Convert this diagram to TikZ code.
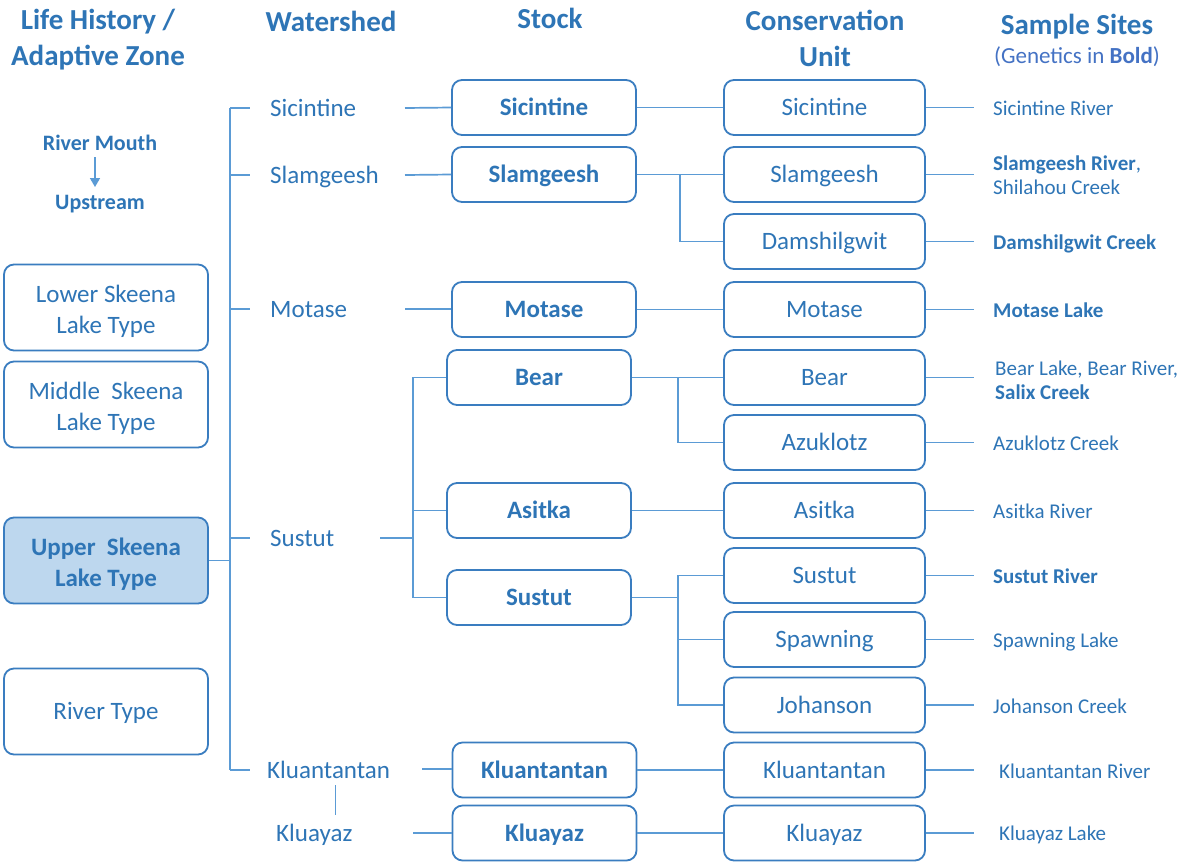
\documentclass[tikz,border=0pt]{standalone}
\usepackage{fontspec}
\usetikzlibrary{arrows.meta}
\setmainfont{Carlito}
\definecolor{txt}{HTML}{2E75B6}
\definecolor{edge}{HTML}{3A7DC0}
\definecolor{wire}{HTML}{5B9BD5}
\definecolor{zfill}{HTML}{BDD7EE}
\definecolor{subtxt}{HTML}{4472C4}
\begin{document}
\begin{tikzpicture}[x=1pt,y=-1pt,
  oneline/.style={text height=#1, text depth=0pt},
  box/.style={draw=edge, line width=1.8pt, rounded corners=10pt, text=txt, align=center, inner sep=0pt},
  stockbox/.style={box, oneline=16.5pt, minimum width=184pt, minimum height=55pt, font=\fontsize{25}{30}\selectfont\bfseries},
  cubox/.style={box, oneline=16.5pt, minimum width=201pt, minimum height=55pt, font=\fontsize{25}{30}\selectfont},
  zonebox/.style={box, minimum width=204pt, minimum height=86pt, font=\fontsize{25}{31}\selectfont},
  zonetext/.style={text=txt, align=center, inner sep=0pt, font=\fontsize{25}{31}\selectfont},
  hdr/.style={text=txt, align=center, inner sep=0pt, font=\fontsize{29}{36}\selectfont\bfseries},
  wlabel/.style={text=txt, oneline=16.5pt, anchor=west, inner sep=0pt, font=\fontsize{25}{30}\selectfont},
  site/.style={text=txt, oneline=14pt, anchor=west, inner sep=0pt, font=\fontsize{21}{25}\selectfont},
  site2/.style={text=txt, anchor=west, align=left, inner sep=0pt, font=\fontsize{21}{24.5}\selectfont},
  note/.style={text=txt, oneline=14.5pt, inner sep=0pt, font=\fontsize{22}{26}\selectfont\bfseries},
  link/.style={draw=wire, line width=1.7pt}]

\fill[white] (0,0) rectangle (1188,863);
\useasboundingbox (0,0) rectangle (1188,863);

% column headings
\node[hdr] (hLife) at (98,40) {Life History /\\Adaptive Zone};
\node[hdr, oneline=19pt] (hWs) at (331,22) {Watershed};
\node[hdr, oneline=19pt] (hStock) at (550,19) {Stock};
\node[hdr] (hCU) at (825,38) {Conservation\\Unit};
\node[hdr, oneline=19pt] (hSite) at (1077,25) {Sample Sites};
\node[text=subtxt, oneline=15pt, inner sep=0pt, font=\fontsize{23}{27}\selectfont] (hGen) at (1077,56) {(Genetics in \textbf{Bold})};

% direction key
\node[note] (mouth) at (100,143) {River Mouth};
\node[note] (up) at (100,202) {Upstream};
\coordinate (aTop) at (95,157);
\coordinate (aBot) at (95,187);
\draw[draw=wire, line width=1.5pt, -{Triangle[length=9pt,width=10pt]}] (aTop) -- (aBot);

% life-history zones
\node[zonebox] (zLow) at (106,307.5) {};
\node[zonetext] at (106,311) {Lower Skeena\\Lake Type};
\node[zonebox] (zMid) at (106,404.5) {};
\node[zonetext] at (106,408) {Middle~~Skeena\\Lake Type};
\node[zonebox, fill=zfill] (zUp) at (106,560.5) {};
\node[zonetext, font=\fontsize{25}{31}\selectfont\bfseries] at (106,564) {Upper~~Skeena\\Lake Type};
\node[zonebox, oneline=16.5pt] (zRiv) at (106,711.5) {River Type};

% watersheds
\node[wlabel] (w1) at (270,108) {Sicintine};
\node[wlabel] (w2) at (270,175) {Slamgeesh};
\node[wlabel] (w3) at (270,309) {Motase};
\node[wlabel] (w4) at (270,538) {Sustut};
\node[wlabel] (w5) at (267,770) {Kluantantan};
\node[wlabel] (w6) at (276,833) {Kluayaz};

% stocks
\node[stockbox] (s1) at (544,107.5) {Sicintine};
\node[stockbox] (s2) at (544,174.5) {Slamgeesh};
\node[stockbox] (s3) at (544,309.5) {Motase};
\node[stockbox] (s4) at (539,377.5) {Bear};
\node[stockbox] (s5) at (539,510.5) {Asitka};
\node[stockbox] (s6) at (539,597.5) {Sustut};
\node[stockbox] (s7) at (544.5,770) {Kluantantan};
\node[stockbox] (s8) at (544.5,833) {Kluayaz};

% conservation units
\node[cubox] (c1) at (824.5,107.5) {Sicintine};
\node[cubox] (c2) at (824.5,174.5) {Slamgeesh};
\node[cubox] (c3) at (824.5,241.5) {Damshilgwit};
\node[cubox] (c4) at (824.5,309.5) {Motase};
\node[cubox] (c5) at (824.5,377.5) {Bear};
\node[cubox] (c6) at (824.5,442.5) {Azuklotz};
\node[cubox] (c7) at (824.5,510.5) {Asitka};
\node[cubox] (c8) at (824.5,575.5) {Sustut};
\node[cubox] (c9) at (824.5,639.5) {Spawning};
\node[cubox] (c10) at (824.5,705) {Johanson};
\node[cubox] (c11) at (824.5,770) {Kluantantan};
\node[cubox] (c12) at (824.5,833) {Kluayaz};

% sample sites
\node[site] (p1) at (993,108) {Sicintine River};
\node[site2] (p2) at (993,175) {\textbf{Slamgeesh River},\\Shilahou Creek};
\node[site] (p3) at (993,242) {\textbf{Damshilgwit Creek}};
\node[site] (p4) at (993,310) {\textbf{Motase Lake}};
\node[site2] (p5) at (995,380.5) {Bear Lake, Bear River,\\\textbf{Salix Creek}};
\node[site] (p6) at (993,443) {Azuklotz Creek};
\node[site] (p7) at (993,511) {Asitka River};
\node[site] (p8) at (993,576) {\textbf{Sustut River}};
\node[site] (p9) at (993,640) {Spawning Lake};
\node[site] (p10) at (993,706) {Johanson Creek};
\node[site] (p11) at (999,771) {Kluantantan River};
\node[site] (p12) at (999,833) {Kluayaz Lake};

% zone -> watershed trunk
\coordinate (tTop) at (230,108);
\coordinate (tBot) at (230,770);
\coordinate (tUp) at (230,560.5);
\draw[link] (tTop) -- (tBot);
\draw[link] (zUp.east) -- (tUp);
\foreach \w in {w1,w2,w3,w4,w5}
  \draw[link] (tTop |- \w.west) -- ++(20,0);

% watershed -> stock
\coordinate (e1) at (405,108);
\coordinate (e2) at (405,175);
\coordinate (e3) at (405,309);
\coordinate (e4) at (380,538);
\coordinate (e5) at (422,769);
\coordinate (e6) at (413,833);
\draw[link] (e1) -- (s1.west);
\draw[link] (e2) -- (s2.west);
\draw[link] (e3) -- (e3 -| s3.west);
\coordinate (jS) at (413,538);
\draw[link] (e4) -- (jS);
\draw[link] (s4.west) -| (jS) |- (s6.west);
\draw[link] (jS |- s5.west) -- (s5.west);
\draw[link] (e5) -- (e5 -| s7.west);
\draw[link] (e6) -- (e6 -| s8.west);
\coordinate (kA) at (335.5,785);
\coordinate (kB) at (335.5,815);
\draw[link] (kA) -- (kB);

% stock -> conservation unit
\draw[link] (s1.east) -- (c1.west);
\draw[link] (s2.east) -- (c2.west);
\coordinate (jB2) at (680,174.5);
\draw[link] (jB2) |- (c3.west);
\draw[link] (s3.east) -- (c4.west);
\draw[link] (s4.east) -- (c5.west);
\coordinate (jB5) at (678,377.5);
\draw[link] (jB5) |- (c6.west);
\draw[link] (s5.east) -- (c7.west);
\coordinate (jB8) at (678,597.5);
\draw[link] (s6.east) -- (jB8);
\draw[link] (c8.west) -| (jB8) |- (c10.west);
\draw[link] (jB8 |- c9.west) -- (c9.west);
\draw[link] (s7.east) -- (c11.west);
\draw[link] (s8.east) -- (c12.west);

% conservation unit -> sample site
\foreach \i in {1,...,12}
  \draw[link] (c\i.east) -- ++(48,0);
\end{tikzpicture}
\end{document}
